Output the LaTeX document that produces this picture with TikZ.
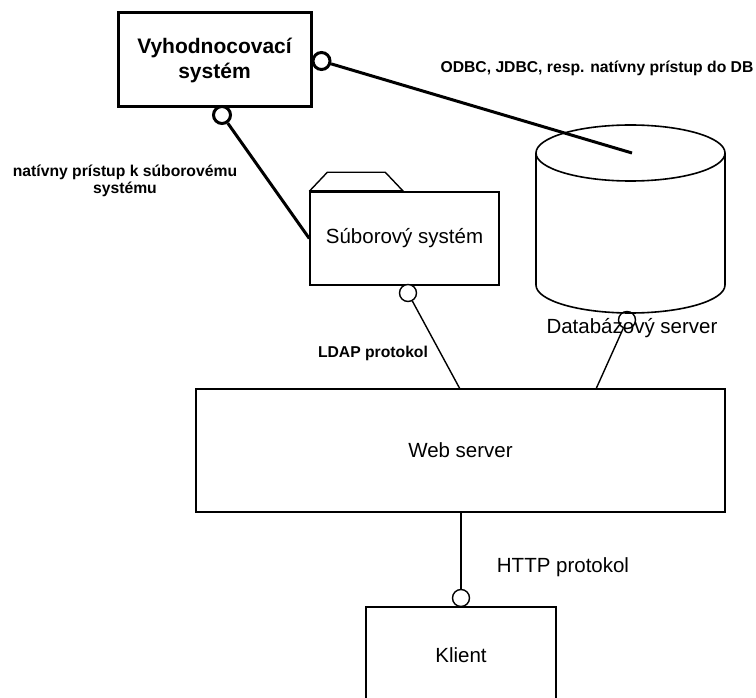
\documentclass[tikz,border=0pt]{standalone}
\usepackage{fontspec}
\setmainfont{Liberation Sans}
\begin{document}
\begin{tikzpicture}[x=1pt, y=-1pt,
  box/.style={draw, line width=1.4pt, inner sep=0pt, align=center,
    font=\fontsize{20.5}{24}\selectfont},
  mainbox/.style={draw, line width=3pt, inner sep=0pt, align=center,
    font=\bfseries\fontsize{21}{25}\selectfont},
  lolli/.style={draw, circle, fill=white, inner sep=0pt, minimum size=17pt},
  thinlink/.style={line width=1.4pt},
  thicklink/.style={line width=3pt},
  boldlabel/.style={inner sep=0pt, align=center,
    font=\bfseries\fontsize{15.7}{17.5}\selectfont},
  plainlabel/.style={inner sep=0pt, font=\fontsize{20.5}{24}\selectfont}]
\useasboundingbox (0,0) rectangle (756,698);
\clip (0,0) rectangle (756,698);

% components
\node[mainbox, minimum width=193pt, minimum height=94pt] (vs) at (214.5,60)
  {Vyhodnocovací\\systém};
\node[box, minimum width=189pt, minimum height=93pt] (fs) at (404.5,238.5)
  {Súborový systém};
\node[box, minimum width=529pt, minimum height=123pt] (ws) at (460.5,450.5)
  {Web server};
\node[box, minimum width=190pt, minimum height=96pt] (kl) at (461,655)
  {Klient};

% folder tab of the file system
\draw[line width=1.4pt] (fs.north west) -- ++(18,-19) -- ++(58,0) -- ++(18,19);
\draw[line width=2.6pt] (fs.north west) -- ++(94,0);

% database cylinder
\node[minimum width=189pt, minimum height=188pt, inner sep=0pt] (db) at (630.5,219) {};
\draw[line width=1.6pt, fill=white] (536,153) -- (536,285)
  arc[start angle=180, end angle=0, x radius=94.5, y radius=28] -- (725,153);
\draw[line width=1.6pt] (630.5,153) ellipse [x radius=94.5, y radius=28];
\node[plainlabel] (dblabel) at (632,328) {Databázový server};
\coordinate (dbtap) at (632,153);

% interface lollipops
\node[lolli, line width=3pt] (c1) at (321.5,61) {};
\node[lolli, line width=3pt] (c2) at (222,115) {};
\node[lolli, line width=1.4pt] (c3) at (408,293) {};
\node[lolli, line width=1.4pt, fill=none] (c4) at (627,320) {};
\node[lolli, line width=1.4pt] (c5) at (461,598) {};

\coordinate (wsl) at (460,389);
\coordinate (wsd) at (596,389);

% connectors
\draw[thicklink] (c1) -- (dbtap);
\draw[thicklink] (c2) -- (fs.west);
\draw[thinlink] (c3) -- (wsl);
\draw[thinlink] (c4) -- (wsd);
\draw[thinlink] (c5) -- (c5 |- ws.south);

% connector labels
\node[boldlabel] (l1) at (597,68) {ODBC, JDBC, resp. natívny prístup do DB};
\node[boldlabel] (l2) at (125,181) {natívny prístup k súborovému\\systému};
\node[boldlabel] (l3) at (373,353) {LDAP protokol};
\node[plainlabel] (l4) at (563,567) {HTTP protokol};
\end{tikzpicture}
\end{document}
